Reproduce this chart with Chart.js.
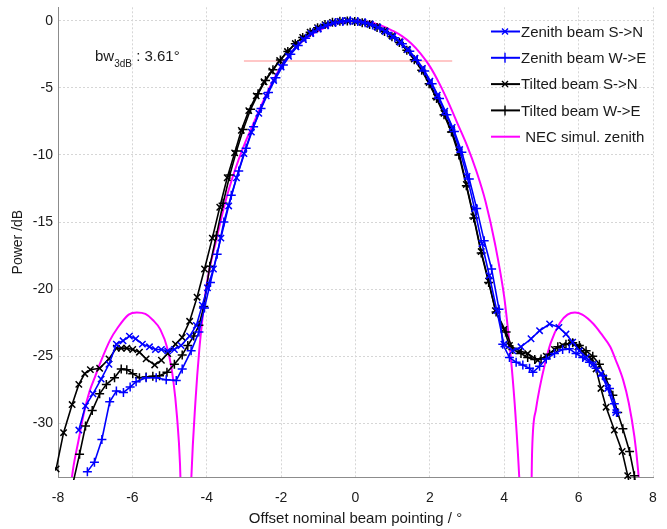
<!DOCTYPE html>
<html>
<head>
<meta charset="utf-8">
<script src="https://cdn.jsdelivr.net/npm/chart.js@4.4.1/dist/chart.umd.min.js"></script>
<style>
  html, body { margin: 0; padding: 0; background: #fff; }
</style>
</head>
<body>
<canvas id="chart" width="667" height="529"></canvas>
<script>
// series names, in legend order
const seriesLabels = ['Zenith beam S->N', 'Zenith beam W->E', 'Tilted beam S->N', 'Tilted beam W->E', ' NEC simul. zenith']

const xTicks = [-8, -6, -4, -2, 0, 2, 4, 6, 8]
const yTicks = [-30, -25, -20, -15, -10, -5, 0]

// Zenith beam S->N (blue x)
const zenithSNAngle = [-7.44, -7.26, -7.06, -6.84, -6.63, -6.43, -6.25, -6.08, -5.91, -5.73, -5.54, -5.38, -5.22, -5.05, -4.87, -4.69, -4.46, -4.28, -4.12,
  -3.98, -3.82, -3.62, -3.41, -3.2, -3.0, -2.8, -2.6, -2.4, -2.2, -2.0, -1.8, -1.6, -1.4, -1.2, -1.0, -0.8, -0.6, -0.4, -0.2, 0.0,
  0.2, 0.4, 0.6, 0.8, 1.0, 1.2, 1.4, 1.6, 1.8, 2.0, 2.2, 2.4, 2.6, 2.8, 3.0, 3.2, 3.4, 3.6, 3.8, 3.99,
  4.23, 4.45, 4.72, 4.95, 5.22, 5.47, 5.66, 5.84, 6.02, 6.2, 6.4, 6.6, 6.78, 7.0]
const zenithSNPower = [-30.5, -28.7, -27.8, -26.7, -25.6, -24.1, -23.85, -23.5, -23.7, -24.1, -24.3, -24.5, -24.5, -24.6, -24.5, -24.2, -23.5, -22.7, -21.2,
  -19.9, -18.5, -16.2, -13.8, -11.7, -9.9, -8.3, -6.9, -5.6, -4.45, -3.45, -2.65, -1.95, -1.4, -0.95, -0.6, -0.35, -0.17, -0.06, 0, -0.05,
  -0.13, -0.28, -0.5, -0.8, -1.18, -1.6, -2.15, -2.8, -3.55, -4.5, -5.55, -6.75, -7.95, -9.6, -11.6, -14.0, -16.6, -19.0, -21.6, -24.1,
  -24.6, -24.3, -23.7, -23.1, -22.6, -22.85, -23.35, -23.95, -24.6, -25.1, -25.6, -26.3, -27.4, -29.2]

// Zenith beam W->E (blue +)
const zenithWEAngle = [-7.21, -7.02, -6.82, -6.61, -6.43, -6.24, -6.06, -5.9, -5.63, -5.36, -5.09, -4.82, -4.66, -4.42, -4.21, -4.06,
  -3.9, -3.72, -3.54, -3.34, -3.14, -2.94, -2.74, -2.54, -2.34, -2.14, -1.94, -1.74, -1.54, -1.34, -1.14, -0.94, -0.74, -0.54, -0.34, -0.14,
  0.06, 0.26, 0.46, 0.66, 0.86, 1.06, 1.26, 1.46, 1.66, 1.86, 2.06, 2.26, 2.46, 2.66, 2.86, 3.06, 3.26, 3.46, 3.66, 3.86, 3.96,
  4.14, 4.32, 4.5, 4.68, 4.77, 4.95, 5.13, 5.35, 5.57, 5.75, 5.93, 6.11, 6.29, 6.47, 6.65, 6.83, 6.96, 7.02]
const zenithWEPower = [-33.6, -32.9, -31.2, -28.4, -27.6, -27.7, -27.3, -26.9, -26.6, -26.6, -26.75, -26.8, -25.95, -24.6, -23.2, -21.4,
  -19.5, -17.4, -15.0, -13.0, -11.2, -9.5, -7.9, -6.55, -5.35, -4.25, -3.3, -2.5, -1.85, -1.3, -0.88, -0.55, -0.3, -0.14, -0.05, -0.01,
  -0.06, -0.16, -0.32, -0.56, -0.88, -1.27, -1.72, -2.28, -2.95, -3.75, -4.7, -5.8, -7.0, -8.25, -9.8, -11.8, -14.0, -16.4, -18.5, -21.5, -24.1,
  -25.1, -25.45, -25.65, -25.9, -26.2, -25.75, -25.2, -24.8, -24.5, -24.45, -24.8, -25.1, -25.45, -25.9, -26.45, -27.4, -28.55, -29.2]

// Tilted beam S->N (black x)
const tiltedSNAngle = [-8.05, -7.85, -7.62, -7.44, -7.28, -7.13, -6.88, -6.63, -6.43, -6.3, -6.15, -5.99, -5.81, -5.63, -5.4, -5.22, -5.05, -4.84, -4.66, -4.46, -4.26,
  -4.06, -3.85, -3.65, -3.45, -3.25, -3.07, -2.87, -2.67, -2.46, -2.25, -2.04, -1.83, -1.62, -1.42, -1.22, -1.02, -0.82, -0.62, -0.42, -0.22, -0.02,
  0.18, 0.38, 0.58, 0.78, 0.98, 1.18, 1.38, 1.58, 1.78, 1.98, 2.18, 2.38, 2.58, 2.78, 2.98, 3.18, 3.38, 3.58, 3.76, 3.99,
  4.14, 4.41, 4.63, 4.9, 5.13, 5.35, 5.57, 5.8, 5.98, 6.16, 6.34, 6.47, 6.6, 6.74, 6.96, 7.17, 7.32, 7.4]
const tiltedSNPower = [-33.4, -30.7, -28.6, -27.1, -26.3, -26.0, -25.9, -25.2, -24.4, -24.4, -24.4, -24.5, -24.7, -25.2, -25.65, -25.3, -24.8, -24.1, -23.6, -22.4, -20.6,
  -18.5, -16.2, -13.9, -11.7, -9.85, -8.17, -6.7, -5.6, -4.55, -3.75, -2.97, -2.3, -1.7, -1.25, -0.85, -0.52, -0.3, -0.13, -0.05, 0, -0.05,
  -0.12, -0.25, -0.45, -0.75, -1.13, -1.56, -2.15, -2.85, -3.6, -4.6, -5.7, -6.9, -8.1, -9.8, -12.2, -14.6, -17.2, -19.4, -21.6, -23.0,
  -24.2, -24.6, -24.8, -25.3, -25.0, -24.5, -24.2, -24.0, -24.3, -24.8, -25.2, -25.95, -27.4, -28.8, -30.5, -32.1, -33.9, -35]

// Tilted beam W->E (black +)
const tiltedWEAngle = [-7.6, -7.42, -7.26, -7.08, -6.88, -6.7, -6.48, -6.3, -6.15, -5.99, -5.81, -5.63, -5.45, -5.27, -5.07, -4.87, -4.66, -4.51, -4.35, -4.21, -4.08,
  -3.92, -3.74, -3.56, -3.38, -3.2, -3.02, -2.82, -2.62, -2.42, -2.22, -2.02, -1.82, -1.62, -1.42, -1.22, -1.02, -0.82, -0.62, -0.42, -0.22, -0.02,
  0.18, 0.38, 0.58, 0.78, 0.98, 1.18, 1.38, 1.58, 1.78, 1.98, 2.18, 2.38, 2.58, 2.78, 2.98, 3.18, 3.38, 3.58, 3.78, 4.05,
  4.23, 4.45, 4.63, 4.82, 4.99, 5.22, 5.44, 5.66, 5.84, 6.02, 6.2, 6.38, 6.56, 6.74, 6.92, 7.05, 7.19, 7.37, 7.5, 7.55]
const tiltedWEPower = [-34.5, -32.3, -30.2, -29.05, -27.8, -27.1, -26.6, -25.95, -26.0, -26.3, -26.6, -26.55, -26.5, -26.45, -26.2, -25.6, -24.9, -24.2, -23.5, -22.7, -21.3,
  -18.3, -16.0, -13.6, -11.5, -9.7, -8.1, -6.6, -5.45, -4.45, -3.65, -2.92, -2.3, -1.72, -1.25, -0.85, -0.52, -0.28, -0.12, -0.04, -0.02, -0.06,
  -0.15, -0.28, -0.5, -0.8, -1.2, -1.62, -2.2, -2.9, -3.7, -4.7, -5.8, -7.0, -8.3, -10.0, -12.3, -14.7, -17.3, -19.5, -21.7, -23.2,
  -24.5, -24.8, -25.1, -25.25, -25.2, -24.85, -24.3, -24.1, -24.0, -24.2, -24.6, -25.0, -25.6, -26.7, -27.9, -29.2, -30.4, -32.1, -33.9, -35]

// NEC simulation, zenith beam (magenta, no markers)
const necAngle = [-7.75, -7.6, -7.45, -7.3, -7.15, -7.0, -6.85, -6.6, -6.4, -6.1, -5.88, -5.65, -5.45, -5.25, -5.05, -4.9, -4.8, -4.72, -4.6, -4.52,
  -4.42, -4.3, -4.2, -4.1, -4.0, -3.75, -3.5, -3.25, -3.0, -2.75, -2.5, -2.25, -2.0, -1.75, -1.5, -1.25, -1.0, -0.75, -0.5, -0.25, 0,
  0.25, 0.5, 0.75, 1.0, 1.25, 1.5, 1.75, 2.0, 2.25, 2.5, 2.75, 3.0, 3.25, 3.5, 3.75, 4.0, 4.1, 4.2, 4.3, 4.42, 4.55,
  4.68, 4.75, 4.85, 4.95, 5.1, 5.25, 5.5, 5.7, 5.9, 6.1, 6.4, 6.6, 6.85, 7.0, 7.2, 7.35, 7.5, 7.6, 7.7]
const necPower = [-37, -33.5, -31.3, -29.2, -27.6, -26.5, -25.4, -23.8, -22.9, -21.9, -21.74, -21.85, -22.3, -23.0, -24.5, -26.8, -29.5, -33, -45, -45,
  -34.5, -28.2, -24.5, -21.8, -19.6, -16.4, -13.5, -11.2, -9.3, -7.7, -6.1, -4.65, -3.4, -2.45, -1.7, -1.15, -0.75, -0.42, -0.18, -0.05, 0,
  -0.05, -0.18, -0.42, -0.75, -1.15, -1.7, -2.45, -3.4, -4.65, -6.1, -7.7, -9.3, -11.2, -13.5, -16.6, -20.6, -23.0, -25.8, -29.3, -35, -45,
  -45, -32, -29, -27.4, -25.5, -24.0, -22.5, -21.9, -21.74, -21.9, -22.6, -23.3, -24.3, -25.3, -26.8, -28.5, -31.0, -33.5, -37]

// 3 dB beamwidth marker
const bwLineAngle = [-3.0, 2.6]
const bwLinePower = [-3, -3]
const bwText = '3.61°'

const font = '"Liberation Sans", Arial, sans-serif'

function pts(xs, ys) {
  return xs.map((x, i) => ({ x: x, y: ys[i] }))
}

function measured(label, xs, ys, color, style) {
  return {
    label: label,
    data: pts(xs, ys),
    showLine: true,
    borderColor: color,
    backgroundColor: color,
    borderWidth: 1.6,
    pointStyle: style,
    pointRadius: 4.5,
    pointBorderWidth: 1.5,
    pointBorderColor: color,
    tension: 0,
    clip: 3
  }
}

// matlab-ish legend in the upper right of the axes, no box
const legendPlugin = {
  id: 'plotLegend',
  afterDraw(chart) {
    const ctx = chart.ctx
    ctx.save()
    ctx.font = '15px ' + font
    ctx.textBaseline = 'middle'
    ctx.textAlign = 'left'
    seriesLabels.forEach((text, i) => {
      const ds = chart.data.datasets[i]
      const y = 31.5 + i * 26.3
      ctx.strokeStyle = ds.borderColor
      ctx.lineWidth = 2
      ctx.beginPath()
      ctx.moveTo(491, y)
      ctx.lineTo(520, y)
      ctx.stroke()
      const r = 4
      ctx.lineWidth = 1.4
      ctx.beginPath()
      if (ds.pointStyle === 'crossRot') {
        const o = r * 0.75
        ctx.moveTo(505 - o, y - o); ctx.lineTo(505 + o, y + o)
        ctx.moveTo(505 - o, y + o); ctx.lineTo(505 + o, y - o)
      } else if (ds.pointStyle === 'cross') {
        ctx.moveTo(505, y - r - 1); ctx.lineTo(505, y + r + 1)
      }
      ctx.stroke()
      ctx.fillStyle = '#1a1a1a'
      ctx.fillText(text, 521, y + 1)
    })
    ctx.restore()
  }
}

// "bw_3dB : 3.61°" note
const notePlugin = {
  id: 'bwNote',
  afterDraw(chart) {
    const ctx = chart.ctx
    ctx.save()
    ctx.fillStyle = '#1a1a1a'
    ctx.textBaseline = 'alphabetic'
    ctx.textAlign = 'left'
    ctx.font = '15px ' + font
    let x = 95
    ctx.fillText('bw', x, 61)
    x += ctx.measureText('bw').width
    ctx.font = '10px ' + font
    ctx.fillText('3dB', x, 67)
    x += ctx.measureText('3dB').width
    ctx.font = '15px ' + font
    ctx.fillText(' : ' + bwText, x, 61)
    ctx.restore()
  }
}

const chart = new Chart(document.querySelector('#chart'), {
  type: 'scatter',
  data: {
    datasets: [
      measured(seriesLabels[0], zenithSNAngle, zenithSNPower, '#0000ff', 'crossRot'),
      measured(seriesLabels[1], zenithWEAngle, zenithWEPower, '#0000ff', 'cross'),
      measured(seriesLabels[2], tiltedSNAngle, tiltedSNPower, '#000000', 'crossRot'),
      measured(seriesLabels[3], tiltedWEAngle, tiltedWEPower, '#000000', 'cross'),
      {
        label: seriesLabels[4],
        data: pts(necAngle, necPower),
        showLine: true,
        borderColor: '#ff00ff',
        backgroundColor: '#ff00ff',
        borderWidth: 2,
        pointRadius: 0,
        cubicInterpolationMode: 'monotone',
        clip: 0
      },
      {
        label: 'bw',
        data: pts(bwLineAngle, bwLinePower),
        showLine: true,
        borderColor: 'rgba(255, 120, 120, 0.55)',
        borderWidth: 1.5,
        pointRadius: 0
      }
    ]
  },
  options: {
    responsive: false,
    animation: false,
    devicePixelRatio: 1,
    layout: { padding: { left: 0, right: 14, top: 7.3, bottom: 0 } },
    plugins: {
      legend: { display: false },
      tooltip: { enabled: false }
    },
    scales: {
      x: {
        type: 'linear',
        min: -8,
        max: 8,
        afterBuildTicks: axis => { axis.ticks = xTicks.map(v => ({ value: v })) },
        afterFit: axis => { axis.height = 52 },
        grid: { color: '#d6d6d6', drawTicks: false },
        border: { display: true, color: '#8c8c8c', width: 1, dash: [2, 2] },
        ticks: { color: '#1a1a1a', font: { family: font, size: 14, lineHeight: 1.6 }, padding: 10, maxRotation: 0 },
        title: {
          display: true,
          text: 'Offset nominal beam pointing / °',
          color: '#1a1a1a',
          font: { family: font, size: 15 },
          padding: { top: 0, bottom: 1 }
        }
      },
      y: {
        type: 'linear',
        min: -34,
        max: 1,
        afterBuildTicks: axis => { axis.ticks = yTicks.map(v => ({ value: v })) },
        afterFit: axis => { axis.width = 58 },
        grid: { color: '#d6d6d6', drawTicks: false },
        border: { display: true, color: '#8c8c8c', width: 1, dash: [2, 2] },
        ticks: { color: '#1a1a1a', font: { family: font, size: 14, lineHeight: 0.2 }, padding: 5 },
        title: {
          display: true,
          text: 'Power /dB',
          color: '#1a1a1a',
          font: { family: font, size: 14 },
          padding: { top: 10, bottom: 0 }
        }
      }
    }
  },
  plugins: [legendPlugin, notePlugin]
})
</script>
</body>
</html>
